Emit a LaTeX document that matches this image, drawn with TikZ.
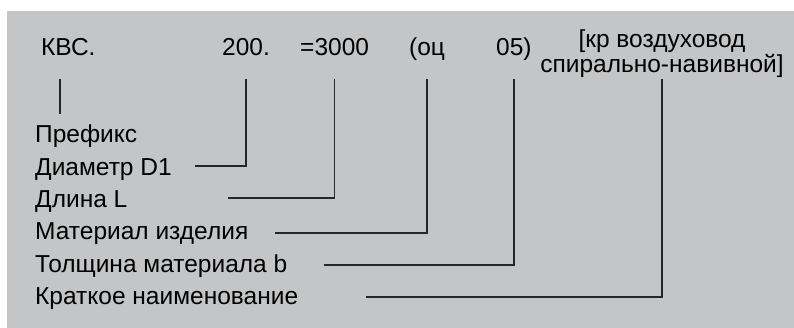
\documentclass[tikz,border=0pt]{standalone}
\usepackage{fontspec}
\setmainfont{Liberation Sans}
\usetikzlibrary{positioning}
\definecolor{panel}{RGB}{196,197,199}
\tikzset{
  code/.style={anchor=base west, inner sep=0pt, font=\fontsize{24.5}{25}\selectfont},
  lbl/.style={anchor=base west, inner sep=0pt, font=\fontsize{24.5}{28}\selectfont},
  lead/.style={draw, line width=1.4pt, black!85}
}
\begin{document}
\begin{tikzpicture}[x=1pt, y=-1pt]

  \useasboundingbox (0,0) rectangle (794,328);
  \fill [panel] (7,11) rectangle (794,328);

  %
  % designation string
  %
  \node [code] (kvs) at (41,56) {КВС.};
  \node [code] (dia) at (222,56) {200.};
  \node [code] (len) at (300,56) {=3000};
  \node [code] (mat) at (409,56) {(оц};
  \node [code] (thk) at (496,56) {05)};
  \node [code, anchor=base, align=center] (name) at (662,73)
    {[кр воздуховод\\спирально-навивной]};

  %
  % field captions
  %
  \node [lbl] (pre) at (35,143) {Префикс};
  \node [lbl] (d1) at (35,175.5) {Диаметр D1};
  \node [lbl] (l) at (35,208) {Длина L};
  \node [lbl] (m) at (35,240) {Материал изделия};
  \node [lbl] (b) at (35,272.5) {Толщина материала b};
  \node [lbl] (kn) at (35,305) {Краткое наименование};

  \coordinate (top) at (0,79.5);
  \coordinate (e-pre) at (60,114);
  \coordinate (e-dia) at (195,166);
  \coordinate (e-len) at (228,198);
  \coordinate (e-mat) at (275,233);
  \coordinate (e-thk) at (324,265);
  \coordinate (e-name) at (366,297);

  \path [lead] (e-pre |- top) -- (e-pre);
  \path [lead] (dia.south |- top) |- (e-dia);
  \path [lead] (len.south |- top) |- (e-len);
  \path [lead] (mat.south |- top) |- (e-mat);
  \path [lead] (thk.south |- top) |- (e-thk);
  \path [lead] (name.south |- top) |- (e-name);

\end{tikzpicture}
\end{document}
